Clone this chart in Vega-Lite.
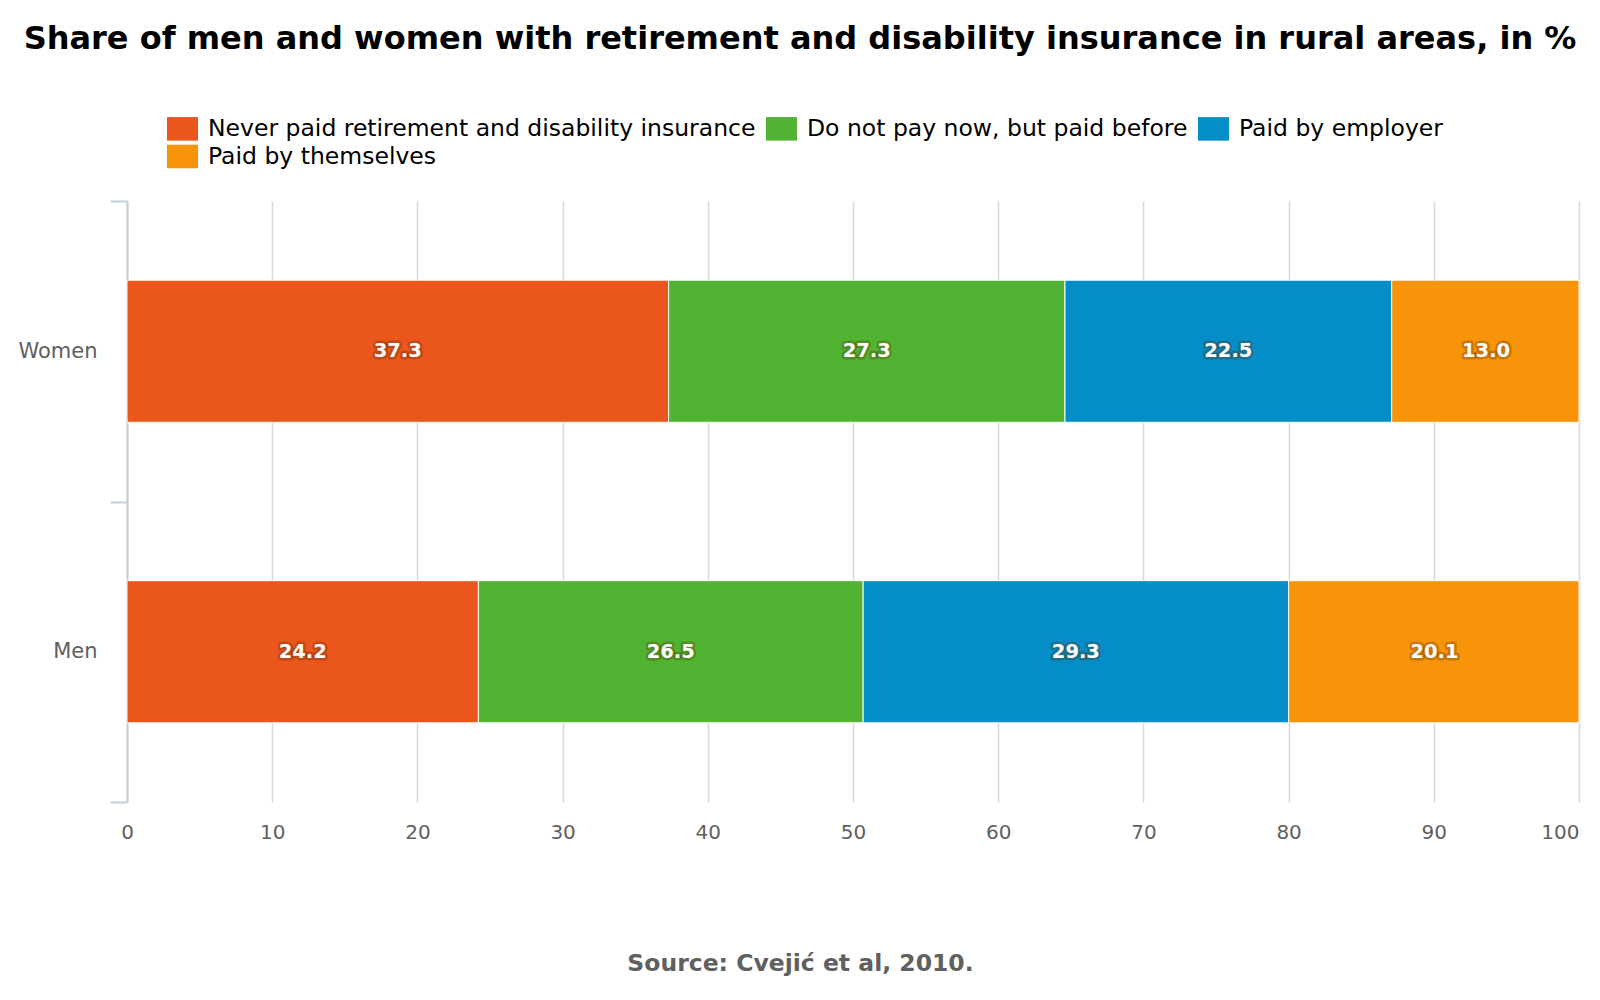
{
  "$schema": "https://vega.github.io/schema/vega-lite/v6.json",
  "width": 1452,
  "height": 601,
  "autosize": {"type": "none"},
  "padding": {"left": 127, "top": 201, "right": 21, "bottom": 198},
  "background": "#ffffff",
  "title": {
    "text": "Share of men and women with retirement and disability insurance in rural areas, in %",
    "font": "DejaVu Sans",
    "fontSize": 32,
    "fontWeight": "bold",
    "color": "#000000",
    "anchor": "middle",
    "frame": "group",
    "dx": -53,
    "offset": 57
  },
  "data": {
    "values": [
      {"gender": "Women", "type": "Never paid retirement and disability insurance", "order": 1, "value": 37.3},
      {"gender": "Women", "type": "Do not pay now, but paid before", "order": 2, "value": 27.3},
      {"gender": "Women", "type": "Paid by employer", "order": 3, "value": 22.5},
      {"gender": "Women", "type": "Paid by themselves", "order": 4, "value": 13.0},
      {"gender": "Men", "type": "Never paid retirement and disability insurance", "order": 1, "value": 24.2},
      {"gender": "Men", "type": "Do not pay now, but paid before", "order": 2, "value": 26.5},
      {"gender": "Men", "type": "Paid by employer", "order": 3, "value": 29.3},
      {"gender": "Men", "type": "Paid by themselves", "order": 4, "value": 20.1}
    ]
  },
  "transform": [
    {"stack": "value", "groupby": ["gender"], "sort": [{"field": "order"}], "as": ["x0", "x1"]},
    {"calculate": "(datum.x0 + datum.x1) / 2", "as": "mid"}
  ],
  "encoding": {
    "y": {
      "field": "gender",
      "type": "nominal",
      "sort": ["Women", "Men"],
      "title": null,
      "scale": {"paddingInner": 0, "paddingOuter": 0},
      "axis": {
        "tickBand": "extent",
        "domainColor": "#C0D0E0",
        "domainWidth": 2,
        "tickColor": "#C0D0E0",
        "tickWidth": 2,
        "tickSize": 17,
        "labelPadding": 13,
        "labelFont": "DejaVu Sans",
        "labelFontSize": 21,
        "labelColor": "#606060",
        "grid": false
      }
    }
  },
  "layer": [
    {
      "mark": {"type": "bar", "height": {"band": 0.473}, "stroke": "#ffffff", "strokeWidth": 1},
      "encoding": {
        "x": {
          "field": "x0",
          "type": "quantitative",
          "scale": {"domain": [0, 100], "clamp": true, "nice": false},
          "axis": {
            "values": [0, 10, 20, 30, 40, 50, 60, 70, 80, 90, 100],
            "grid": true,
            "gridColor": "#D8D8D8",
            "gridWidth": 1.5,
            "domain": false,
            "ticks": false,
            "labelPadding": 20,
            "labelFont": "DejaVu Sans",
            "labelFontSize": 20,
            "labelColor": "#606060",
            "labelAlign": {"condition": {"test": "datum.value == 100", "value": "right"}, "value": "center"},
            "title": "Source: Cvejić et al, 2010.",
            "titleFont": "DejaVu Sans",
            "titleFontSize": 23.5,
            "titleFontWeight": "bold",
            "titleColor": "#606060",
            "titleX": 673,
            "titleY": 161,
            "titleAlign": "center",
            "titleBaseline": "middle"
          }
        },
        "x2": {"field": "x1"},
        "color": {
          "field": "type",
          "type": "nominal",
          "sort": ["Never paid retirement and disability insurance", "Do not pay now, but paid before", "Paid by employer", "Paid by themselves"],
          "scale": {
            "domain": ["Never paid retirement and disability insurance", "Do not pay now, but paid before", "Paid by employer", "Paid by themselves"],
            "range": ["#EB561D", "#50B432", "#058DC7", "#F7940A"]
          },
          "legend": {
            "title": null,
            "orient": "none",
            "legendX": 40,
            "legendY": -88,
            "direction": "horizontal",
            "columns": 3,
            "columnPadding": 10,
            "rowPadding": -3,
            "symbolType": "M-1,-0.76H1V0.76H-1Z",
            "symbolSize": 961,
            "symbolStrokeWidth": 0,
            "symbolOpacity": 1,
            "labelFont": "DejaVu Sans",
            "labelFontSize": 23.5,
            "labelColor": "#000000",
            "labelOffset": 10,
            "labelLimit": 0
          }
        },
        "order": {"field": "order"}
      }
    },
    {
      "mark": {"type": "text", "font": "DejaVu Sans", "fontSize": 19.5, "fontWeight": "bold", "fill": "#5a2a00", "fillOpacity": 0.35, "stroke": "#5a2a00", "strokeOpacity": 0.3, "strokeWidth": 5, "strokeJoin": "round", "baseline": "middle"},
      "encoding": {
        "x": {"field": "mid", "type": "quantitative"},
        "text": {"field": "value", "type": "quantitative", "format": ".1f"}
      }
    },
    {
      "mark": {"type": "text", "font": "DejaVu Sans", "fontSize": 19.5, "fontWeight": "bold", "fill": "#ffffff", "baseline": "middle"},
      "encoding": {
        "x": {"field": "mid", "type": "quantitative"},
        "text": {"field": "value", "type": "quantitative", "format": ".1f"}
      }
    }
  ],
  "config": {"view": {"stroke": null}}
}
